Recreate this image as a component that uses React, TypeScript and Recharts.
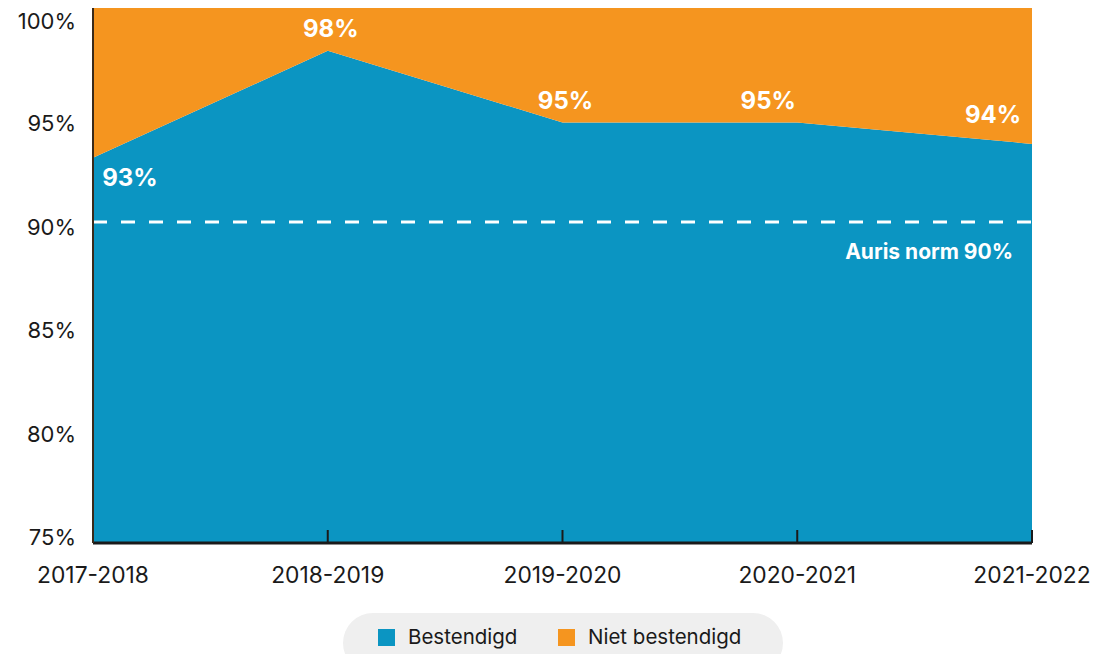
import React from 'react';
import { AreaChart, Area, XAxis, YAxis, ReferenceLine, LabelList } from 'recharts';

const categories = ['2017-2018', '2018-2019', '2019-2020', '2020-2021', '2021-2022'];
const bestendigd = [93.0, 98.0, 94.65, 94.65, 93.65];
const nietBestendigd = [7.0, 2.0, 5.35, 5.35, 6.35];
const yTicks = [75, 80, 85, 90, 95, 100];
const normValue = 90;
const normLabel = 'Auris norm 90%';
const seriesNames = ['Bestendigd', 'Niet bestendigd'];

const BLUE = '#0b95c2';
const ORANGE = '#f5951f';
const TEXT = '#1a1a1a';
const FONT = 'Inter, "Noto Sans", sans-serif';

const data = categories.map((c, i) => ({
  name: c,
  bestendigd: bestendigd[i],
  niet: nietBestendigd[i],
}));

// label offsets (style only)
const labelOffsets: [number, number][] = [
  [37, 20],
  [3, -22],
  [3, -22],
  [-29, -22],
  [-39, -29],
];

const PLOT_TOP = 8;
const PLOT_BOTTOM = 543;

const YTick = (props: any) => {
  const { y, payload } = props;
  const ny = 20 + (y - PLOT_TOP) * (517 / (PLOT_BOTTOM - PLOT_TOP));
  return (
    <text x={76} y={ny} textAnchor="end" dominantBaseline="central" fill={TEXT} fontSize={22} fontFamily={FONT}>
      {`${payload.value}%`}
    </text>
  );
};

const XTick = (props: any) => {
  const { x, y, payload, index } = props;
  return (
    <g>
      {index > 0 && <line x1={x} x2={x} y1={y} y2={y - 13} stroke="#1a1a1a" strokeWidth={2} />}
      <text x={x} y={y + 31} textAnchor="middle" dominantBaseline="central" fill={TEXT} fontSize={22.8} fontFamily={FONT}>
        {payload.value}
      </text>
    </g>
  );
};

const ValueLabel = (props: any) => {
  const { x, y, index } = props;
  const [dx, dy] = labelOffsets[index];
  return (
    <text x={x + dx} y={y + dy} textAnchor="middle" dominantBaseline="central" fill="#ffffff" fontSize={24} fontWeight={700} fontFamily={FONT}>
      {`${Math.round(bestendigd[index])}%`}
    </text>
  );
};

const NormLabel = (props: any) => {
  const { viewBox } = props;
  return (
    <text x={viewBox.x + viewBox.width - 19} y={viewBox.y + 29} textAnchor="end" dominantBaseline="central" fill="#ffffff" fontSize={21} fontWeight={700} fontFamily={FONT}>
      {normLabel}
    </text>
  );
};

export default function App() {
  return (
    <div style={{ position: 'absolute', left: 0, top: 0, width: 1097, height: 654, overflow: 'hidden', background: '#fff' }}>
      <AreaChart
        width={1097}
        height={654}
        data={data}
        margin={{ top: PLOT_TOP, right: 65, left: 0, bottom: 61 }}
        style={{ overflow: 'visible' }}
      >
        <XAxis
          dataKey="name"
          tickSize={0}
          tickMargin={0}
          height={50}
          tickLine={false}
          axisLine={{ stroke: '#1a1a1a', strokeWidth: 3 }}
          tick={<XTick />}
          interval={0}
          padding={{ left: 0, right: 0 }}
        />
        <YAxis
          domain={[75, 100]}
          ticks={yTicks}
          width={93}
          tickLine={false}
          axisLine={{ stroke: '#3a2a1a', strokeWidth: 2 }}
          tick={<YTick />}
          allowDataOverflow
        />
        <Area
          type="linear"
          dataKey="bestendigd"
          stackId="a"
          stroke="none"
          fill={BLUE}
          fillOpacity={1}
          isAnimationActive={false}
          baseValue={75}
        >
          <LabelList dataKey="bestendigd" content={<ValueLabel />} />
        </Area>
        <Area
          type="linear"
          dataKey="niet"
          stackId="a"
          stroke="none"
          fill={ORANGE}
          fillOpacity={1}
          isAnimationActive={false}
        />
        <ReferenceLine
          y={normValue}
          stroke="#ffffff"
          strokeWidth={3}
          strokeDasharray="14 14"
          label={<NormLabel />}
        />
      </AreaChart>
      <div
        style={{
          position: 'absolute',
          left: 343,
          top: 613,
          width: 440,
          height: 60,
          borderRadius: 30,
          background: '#efefef',
          fontFamily: FONT,
          fontSize: 20.5,
          color: TEXT,
        }}
      >
        <div style={{ position: 'absolute', left: 35, top: 16, width: 17, height: 17, background: BLUE }} />
        <div style={{ position: 'absolute', left: 65, top: 12, lineHeight: '24px' }}>{seriesNames[0]}</div>
        <div style={{ position: 'absolute', left: 215, top: 16, width: 17, height: 17, background: ORANGE }} />
        <div style={{ position: 'absolute', left: 245, top: 12, lineHeight: '24px' }}>{seriesNames[1]}</div>
      </div>
    </div>
  );
}
